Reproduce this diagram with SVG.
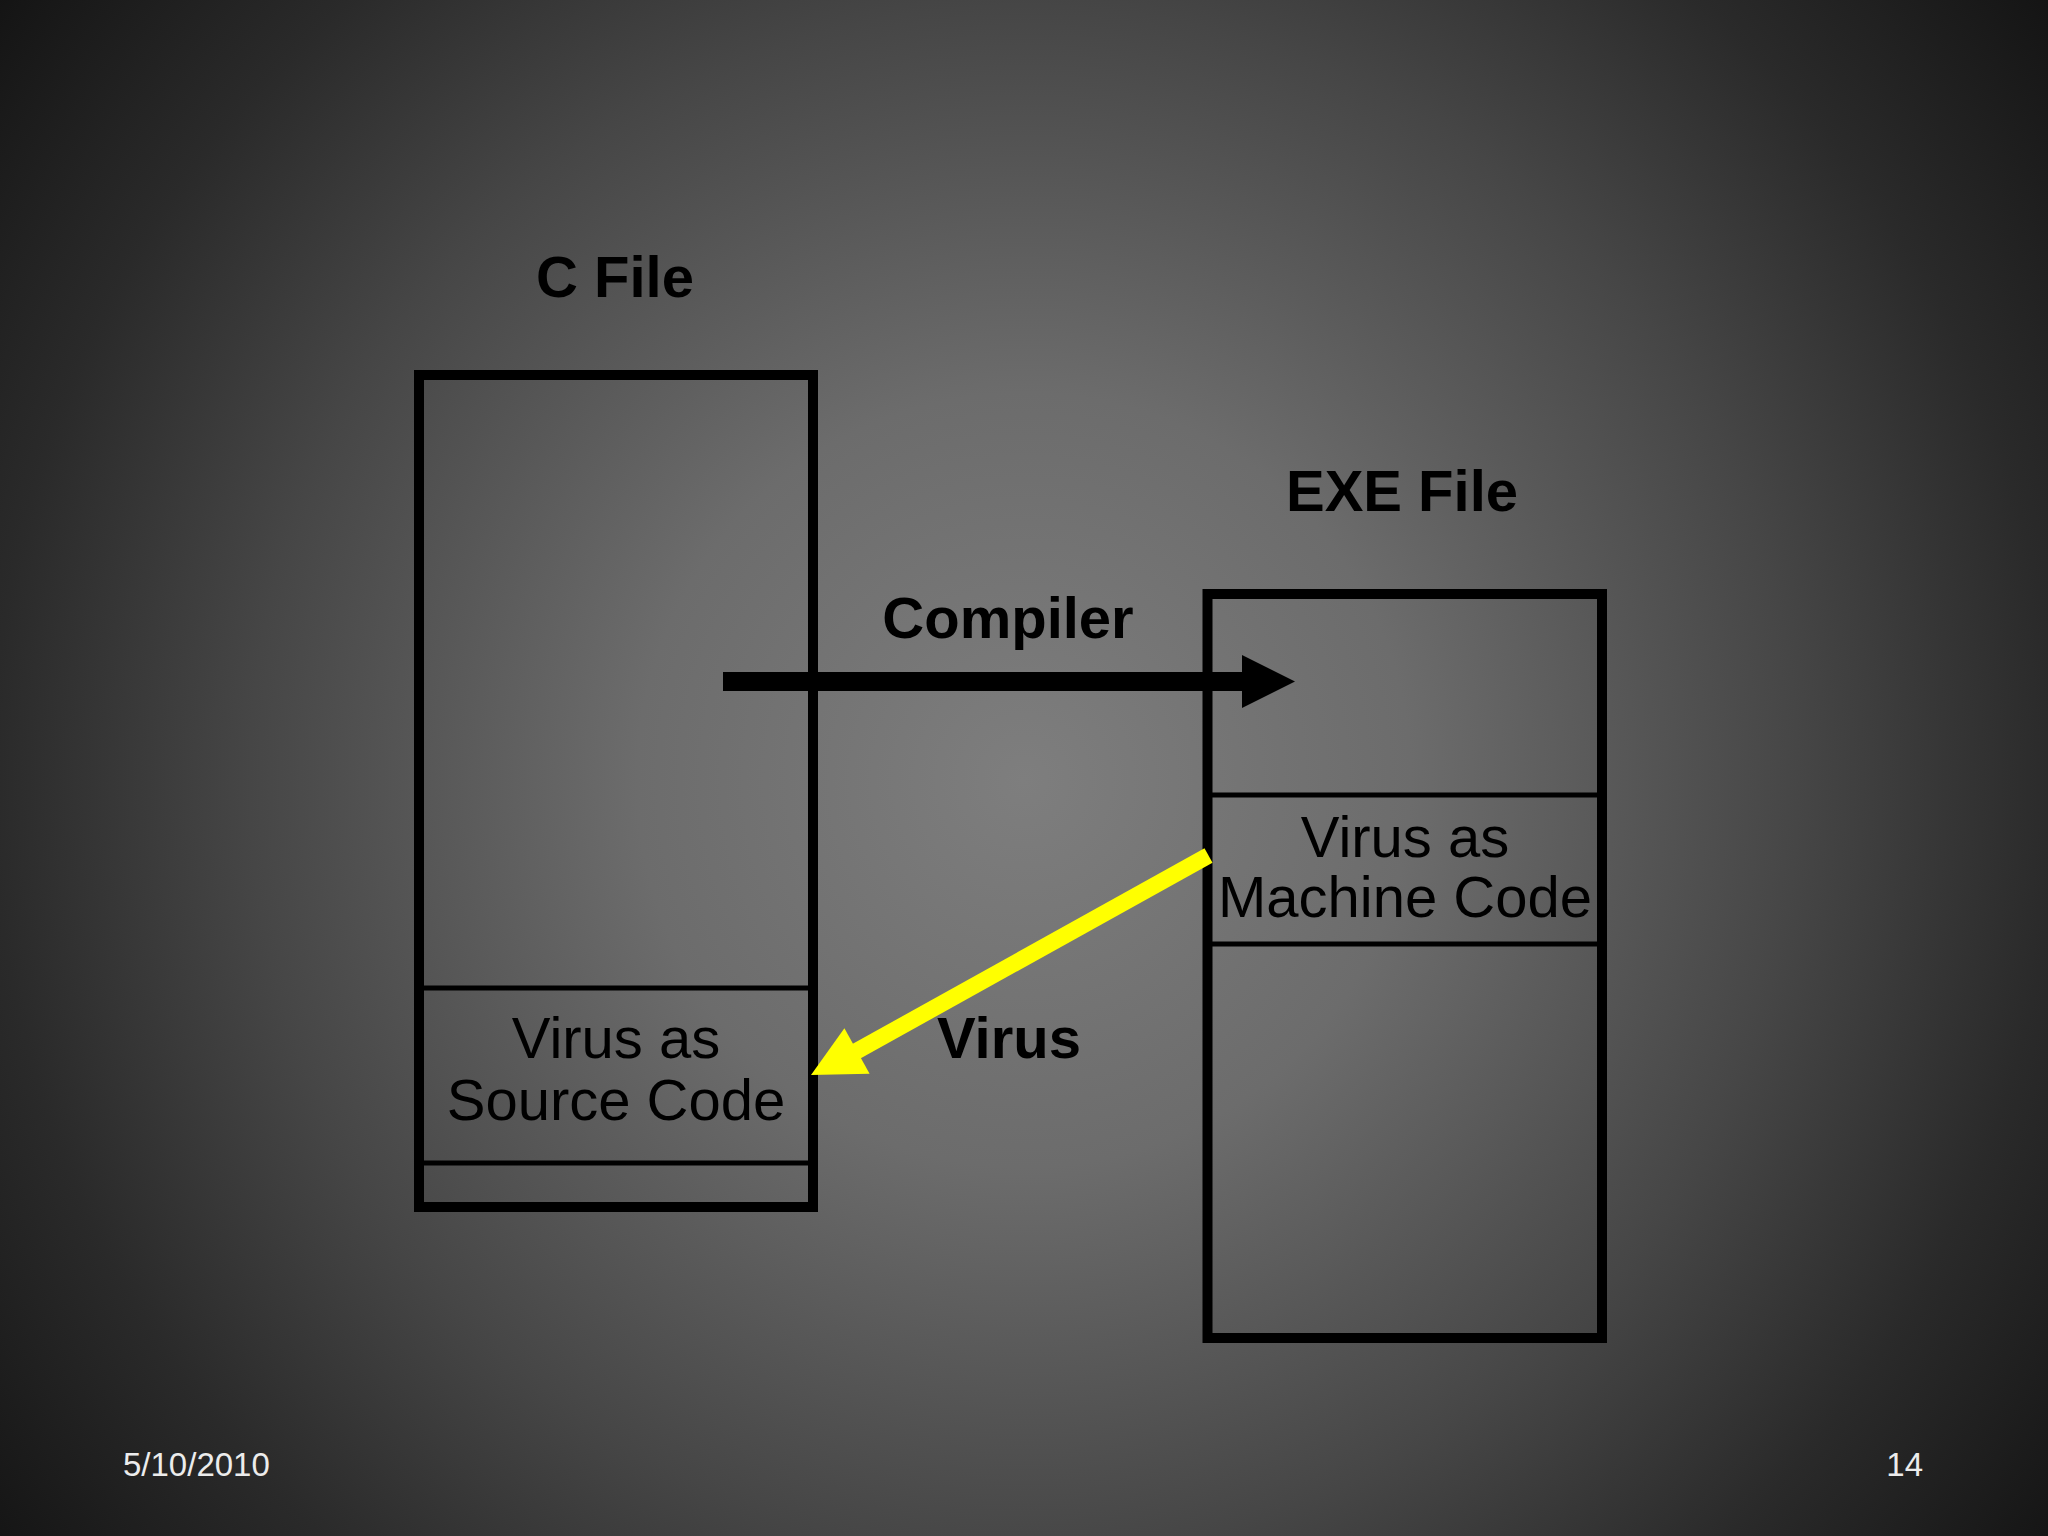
<svg xmlns="http://www.w3.org/2000/svg" width="2048" height="1536" viewBox="0 0 2048 1536">
  <defs>
    <radialGradient id="bg" gradientUnits="userSpaceOnUse" cx="1024" cy="780" r="1290">
      <stop offset="0" stop-color="#7e7e7e"/>
      <stop offset="0.3" stop-color="#6c6c6c"/>
      <stop offset="0.6" stop-color="#464646"/>
      <stop offset="0.8" stop-color="#2a2a2a"/>
      <stop offset="1" stop-color="#141414"/>
    </radialGradient>
    <style>
      .box { fill: none; stroke: #000; stroke-width: 10; }
      .div { stroke: #000; stroke-width: 5; }
      .lbl { font-family: "Liberation Sans", Arial, sans-serif; font-size: 58px; fill: #000; text-anchor: middle; }
      .b { font-weight: bold; }
      .foot { font-family: "Liberation Sans", Arial, sans-serif; font-size: 33px; fill: #ececec; }
    </style>
  </defs>
  <rect x="0" y="0" width="2048" height="1536" fill="url(#bg)"/>

  <g id="cfile">
    <text class="lbl b" x="615" y="297">C File</text>
    <rect class="box" x="419" y="375" width="394" height="832"/>
    <line class="div" x1="424" y1="988" x2="808" y2="988"/>
    <line class="div" x1="424" y1="1163" x2="808" y2="1163"/>
    <text class="lbl" x="616" y="1058">Virus as</text>
    <text class="lbl" x="616" y="1120">Source Code</text>
  </g>

  <g id="exefile">
    <text class="lbl b" x="1402" y="511">EXE File</text>
    <rect class="box" x="1207.5" y="594" width="394.5" height="744"/>
    <line class="div" x1="1212" y1="795" x2="1597" y2="795" stroke-width="6"/>
    <line class="div" x1="1212" y1="944" x2="1597" y2="944" stroke-width="6"/>
    <text class="lbl" x="1405" y="857">Virus as</text>
    <text class="lbl" x="1405" y="917">Machine Code</text>
  </g>

  <g id="connectors">
    <g id="compiler-arrow">
      <rect x="723" y="672" width="522" height="19" fill="#000"/>
      <polygon points="1242,655 1295,681.5 1242,708" fill="#000"/>
      <text class="lbl b" x="1008" y="638">Compiler</text>
    </g>
    <g id="virus-arrow">
      <line x1="1208.5" y1="855.5" x2="855" y2="1052" stroke="#ffff00" stroke-width="16.5"/>
      <polygon points="811,1075 844.4,1028.3 869.6,1073.7" fill="#ffff00"/>
      <text class="lbl b" x="1009" y="1058">Virus</text>
    </g>
  </g>

  <text class="foot" x="123" y="1476">5/10/2010</text>
  <text class="foot" x="1923" y="1476" text-anchor="end">14</text>
</svg>
